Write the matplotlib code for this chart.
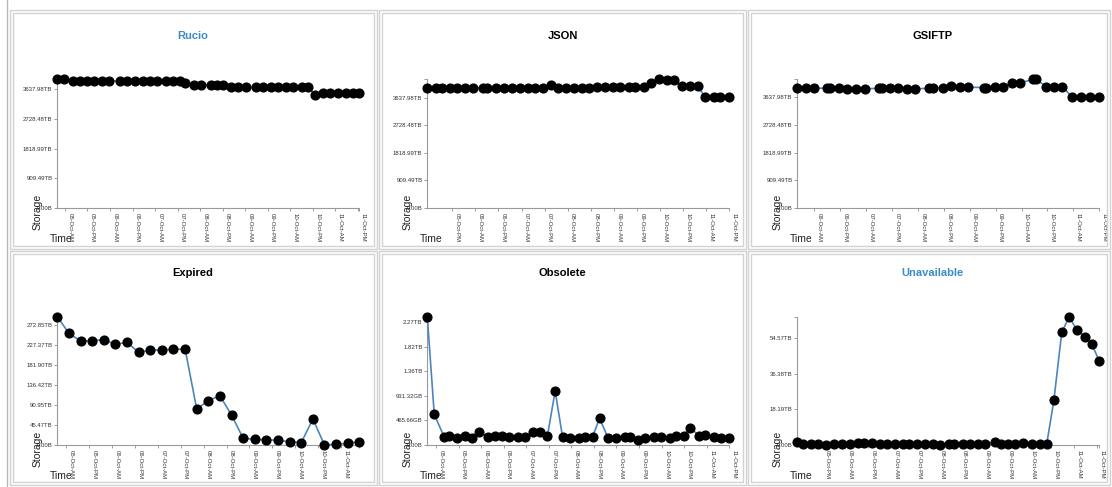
import matplotlib
matplotlib.use("Agg")
import matplotlib.pyplot as plt
from matplotlib.patches import Rectangle
from matplotlib.lines import Line2D
from matplotlib.transforms import ScaledTranslation

plt.rcParams['font.family'] = ['Liberation Sans', 'DejaVu Sans']

W, H = 1112, 487

# Tid i timer regnet fra 04-Oct 00:00, lagring i TB
rucio_timer = [19.9, 23.5, 28.1, 32.0, 35.9, 39.7, 43.6, 47.7, 53.4, 57.3, 61.5, 65.4, 69.1, 73.1,
               78.0, 81.6, 85.1, 88.2, 92.6, 96.6, 101.9, 105.1, 108.3, 112.6, 116.4, 120.3, 125.6,
               129.5, 133.6, 137.5, 141.7, 145.6, 150.6, 153.3, 157.2, 161.3, 165.4, 169.3, 173.8,
               177.3, 180.9]
rucio_tb = [3946, 3940, 3895, 3895, 3895, 3895, 3895, 3890, 3900, 3900, 3893, 3893, 3895, 3895,
            3898, 3898, 3890, 3845, 3772, 3772, 3782, 3782, 3785, 3705, 3700, 3700, 3702, 3700,
            3700, 3700, 3700, 3700, 3712, 3712, 3475, 3520, 3525, 3530, 3535, 3535, 3540]

json_timer = [23.0, 27.5, 30.5, 34.8, 38.6, 42.6, 46.6, 52.2, 54.2, 58.8, 62.9, 66.9, 71.3, 75.6,
              79.1, 83.1, 87.2, 91.2, 95.2, 99.4, 103.4, 107.3, 111.2, 115.5, 119.3, 123.3, 127.6,
              131.1, 135.4, 139.5, 143.2, 147.6, 151.1, 155.4, 159.4, 163.6, 167.6, 171.9, 175.4,
              180.0]
json_tb = [3975, 3960, 3955, 3958, 3960, 3960, 3960, 3955, 3958, 3960, 3955, 3955, 3955, 3960,
           3960, 3962, 4075, 3955, 3955, 3975, 3975, 3980, 3990, 4000, 4000, 3995, 3990, 3995,
           4000, 4120, 4255, 4230, 4230, 4020, 4020, 4020, 3660, 3680, 3680, 3685]

gsiftp_timer = [40.2, 44.1, 47.7, 53.9, 55.5, 59.3, 63.2, 67.4, 71.5, 78.0, 79.6, 83.0, 86.8, 90.8,
                94.8, 101.3, 102.9, 107.5, 111.4, 115.3, 119.2, 126.5, 127.7, 131.6, 135.2, 139.4,
                143.3, 149.2, 150.7, 155.4, 159.1, 162.9, 167.4, 171.6, 175.9, 180.0]
gsiftp_tb = [3933, 3933, 3933, 3933, 3933, 3955, 3911, 3911, 3911, 3933, 3933, 3933, 3933, 3911,
             3911, 3933, 3933, 3955, 4020, 3966, 3966, 3955, 3955, 3966, 3966, 4097, 4097, 4225,
             4225, 3988, 3988, 3988, 3640, 3640, 3640, 3660]

expired_timer = [19.4, 25.5, 31.6, 37.6, 43.7, 49.8, 55.9, 62.0, 68.0, 74.1, 80.2, 86.3, 92.4, 98.4,
                 104.5, 110.6, 116.7, 122.8, 128.8, 134.9, 141.0, 147.1, 153.2, 159.2, 165.3,
                 171.4, 177.5]
expired_tb = [291.8, 253.9, 236.4, 237.2, 239.5, 228.9, 233.4, 210.7, 215.2, 216.7, 217.5, 218.2,
              81.8, 100.8, 112.2, 68.2, 15.2, 12.9, 12.1, 10.6, 7.6, 5.3, 59.1, 0.5, 1.5, 3.8, 7.6]

obsolete_timer = [19.4, 23.1, 28.3, 31.1, 35.4, 39.5, 43.4, 47.1, 51.9, 55.4, 59.3, 63.1, 67.5, 71.4,
                  75.8, 79.4, 83.3, 87.4, 91.3, 95.4, 100.3, 103.4, 107.3, 111.0, 115.5, 119.7,
                  124.3, 127.3, 131.4, 135.3, 139.7, 143.7, 148.3, 151.7, 155.7, 159.3, 163.7,
                  167.3, 171.7, 175.6, 180.0]
obsolete_tb = [2.379, 0.568, 0.154, 0.173, 0.136, 0.173, 0.136, 0.235, 0.154, 0.167, 0.173, 0.142,
               0.142, 0.142, 0.235, 0.247, 0.173, 1.001, 0.154, 0.136, 0.136, 0.154, 0.154, 0.494,
               0.136, 0.124, 0.154, 0.142, 0.093, 0.136, 0.154, 0.142, 0.124, 0.161, 0.173, 0.321,
               0.173, 0.185, 0.154, 0.136, 0.124]

unavailable_timer = [22.8, 26.0, 30.0, 33.9, 37.9, 41.8, 46.2, 50.3, 54.5, 57.6, 62.1, 66.1, 70.0,
                     73.9, 78.4, 81.4, 85.5, 89.9, 93.8, 97.8, 102.5, 105.2, 109.6, 113.6, 117.5,
                     121.5, 126.3, 129.5, 133.4, 137.2, 141.3, 145.7, 150.0, 153.6, 157.4, 161.5,
                     165.4, 169.4, 173.8, 177.3, 181.2]
unavailable_tb = [1.36, 0.34, 0.34, 0.34, 0.0, 0.34, 0.34, 0.34, 1.19, 0.85, 0.85, 0.34, 0.34, 0.34,
                  0.51, 0.51, 0.34, 0.34, 0.68, 0.0, 0.34, 0.34, 0.34, 0.34, 0.34, 0.34, 1.7, 0.68,
                  0.34, 0.34, 1.02, 0.68, 0.34, 0.34, 22.95, 57.46, 65.45, 58.65, 55.25, 51.34,
                  42.84]

# x-aksen: hver 12. time
tick_timer = [24, 36, 48, 60, 72, 84, 96, 108, 120, 132, 144, 156, 168, 180]
tick_navn = ["05-Oct-AM", "05-Oct-PM", "06-Oct-AM", "06-Oct-PM", "07-Oct-AM", "07-Oct-PM",
             "08-Oct-AM", "08-Oct-PM", "09-Oct-AM", "09-Oct-PM", "10-Oct-AM", "10-Oct-PM",
             "11-Oct-AM", "11-Oct-PM"]

pb_ticks = [0, 909.49, 1818.99, 2728.48, 3637.98]
pb_navn = ["0.00B", "909.49TB", "1818.99TB", "2728.48TB", "3637.98TB"]
expired_ticks = [0, 45.47, 90.95, 136.42, 181.90, 227.37, 272.85]
expired_navn = ["0.00B", "45.47TB", "90.95TB", "136.42TB", "181.90TB", "227.37TB", "272.85TB"]
obsolete_ticks = [0, 0.45475, 0.9095, 1.36424, 1.81899, 2.27374]
obsolete_navn = ["0.00B", "465.66GB", "931.32GB", "1.36TB", "1.82TB", "2.27TB"]
unavailable_ticks = [0, 18.19, 36.38, 54.57]
unavailable_navn = ["0.00B", "18.19TB", "36.38TB", "54.57TB"]

# Plassering i piksler
akse_venstre = [57.3, 427.3, 797.3]
akse_bredde = 302
akse_topp = [79.3, 316.7]
akse_bunn = [208, 445]
tittel_x = [193, 562.7, 932.7]
tittel_y = [36, 273]
boks_x = [(10, 377), (379, 746), (748, 1110)]
boks_y = [(10, 249), (251, 485)]

linjefarge = "#4a86bd"
blaa = "#3a8cc4"
aksefarge = "#9a9a9a"

fig = plt.figure(figsize=(W / 100, H / 100), dpi=100)


def fx(px):
    return px / W


def fy(py):
    return 1 - py / H


def tegn_boks(kol, rad):
    x0, x1 = boks_x[kol]
    y0, y1 = boks_y[rad]
    for inn in (0, 3):
        fig.patches.append(Rectangle((fx(x0 + inn), fy(y1 - inn)), fx(x1 - x0 - 2 * inn),
                                     (y1 - y0 - 2 * inn) / H, transform=fig.transFigure,
                                     fill=False, edgecolor="#d2d2d2", lw=1.0))


def tegn_panel(kol, rad, tittel, farge, timer, verdier, yt, yn, t_fra, t_til):
    tegn_boks(kol, rad)
    venstre = akse_venstre[kol]
    topp, bunn = akse_topp[rad], akse_bunn[rad]
    ax = fig.add_axes([fx(venstre), fy(bunn), akse_bredde / W, (bunn - topp) / H])
    ax.plot(timer, verdier, color=linjefarge, lw=1.2, marker="o", ms=6.3,
            mfc="black", mec="black", clip_on=False, zorder=3)
    ax.set_xlim(timer[0], timer[-1])
    ax.set_ylim(0, max(verdier))

    for side in ("top", "right"):
        ax.spines[side].set_visible(False)
    for side in ("left", "bottom"):
        ax.spines[side].set_color(aksefarge)
        ax.spines[side].set_linewidth(0.8)

    ax.set_yticks(yt)
    ax.set_yticklabels(yn)
    ax.set_xticks(tick_timer[t_fra:t_til])
    ax.set_xticklabels(tick_navn[t_fra:t_til], rotation=-90)
    # ytterste ticks i enden av aksene
    ax.set_yticks([max(verdier)], minor=True)
    ax.set_xticks([timer[-1]], minor=True)
    ax.tick_params(axis="both", which="both", length=2.5, width=0.7, color=aksefarge,
                   labelsize=4.3, labelcolor="#333333", pad=1)
    flytt = ScaledTranslation(0.05, 0, fig.dpi_scale_trans)
    for lab in ax.get_xticklabels():
        lab.set_transform(lab.get_transform() + flytt)

    fig.text(fx(tittel_x[kol]), fy(tittel_y[rad]), tittel, ha="center", va="center",
             fontsize=8, fontweight="bold", color=farge)
    fig.text(fx(venstre - 20), fy(bunn + 4), "Storage", rotation=90, ha="center",
             va="center", fontsize=7.5, color="#222222")
    fig.text(fx(venstre + 4), fy(bunn + 31), "Time", ha="center", va="center",
             fontsize=7.5, color="#222222")
    return ax


# ramme rundt hele siden
fig.add_artist(Line2D([fx(6.5), fx(6.5)], [0, 1], transform=fig.transFigure,
                      color="#b8b8b8", lw=1.0))

tegn_panel(0, 0, "Rucio", blaa, rucio_timer, rucio_tb, pb_ticks, pb_navn, 0, 14)
tegn_panel(1, 0, "JSON", "black", json_timer, json_tb, pb_ticks, pb_navn, 1, 14)
tegn_panel(2, 0, "GSIFTP", "black", gsiftp_timer, gsiftp_tb, pb_ticks, pb_navn, 2, 14)
tegn_panel(0, 1, "Expired", "black", expired_timer, expired_tb, expired_ticks, expired_navn, 0, 13)
tegn_panel(1, 1, "Obsolete", "black", obsolete_timer, obsolete_tb, obsolete_ticks, obsolete_navn, 0, 14)
tegn_panel(2, 1, "Unavailable", blaa, unavailable_timer, unavailable_tb, unavailable_ticks,
           unavailable_navn, 1, 14)

fig.savefig("out.png", dpi=100)
